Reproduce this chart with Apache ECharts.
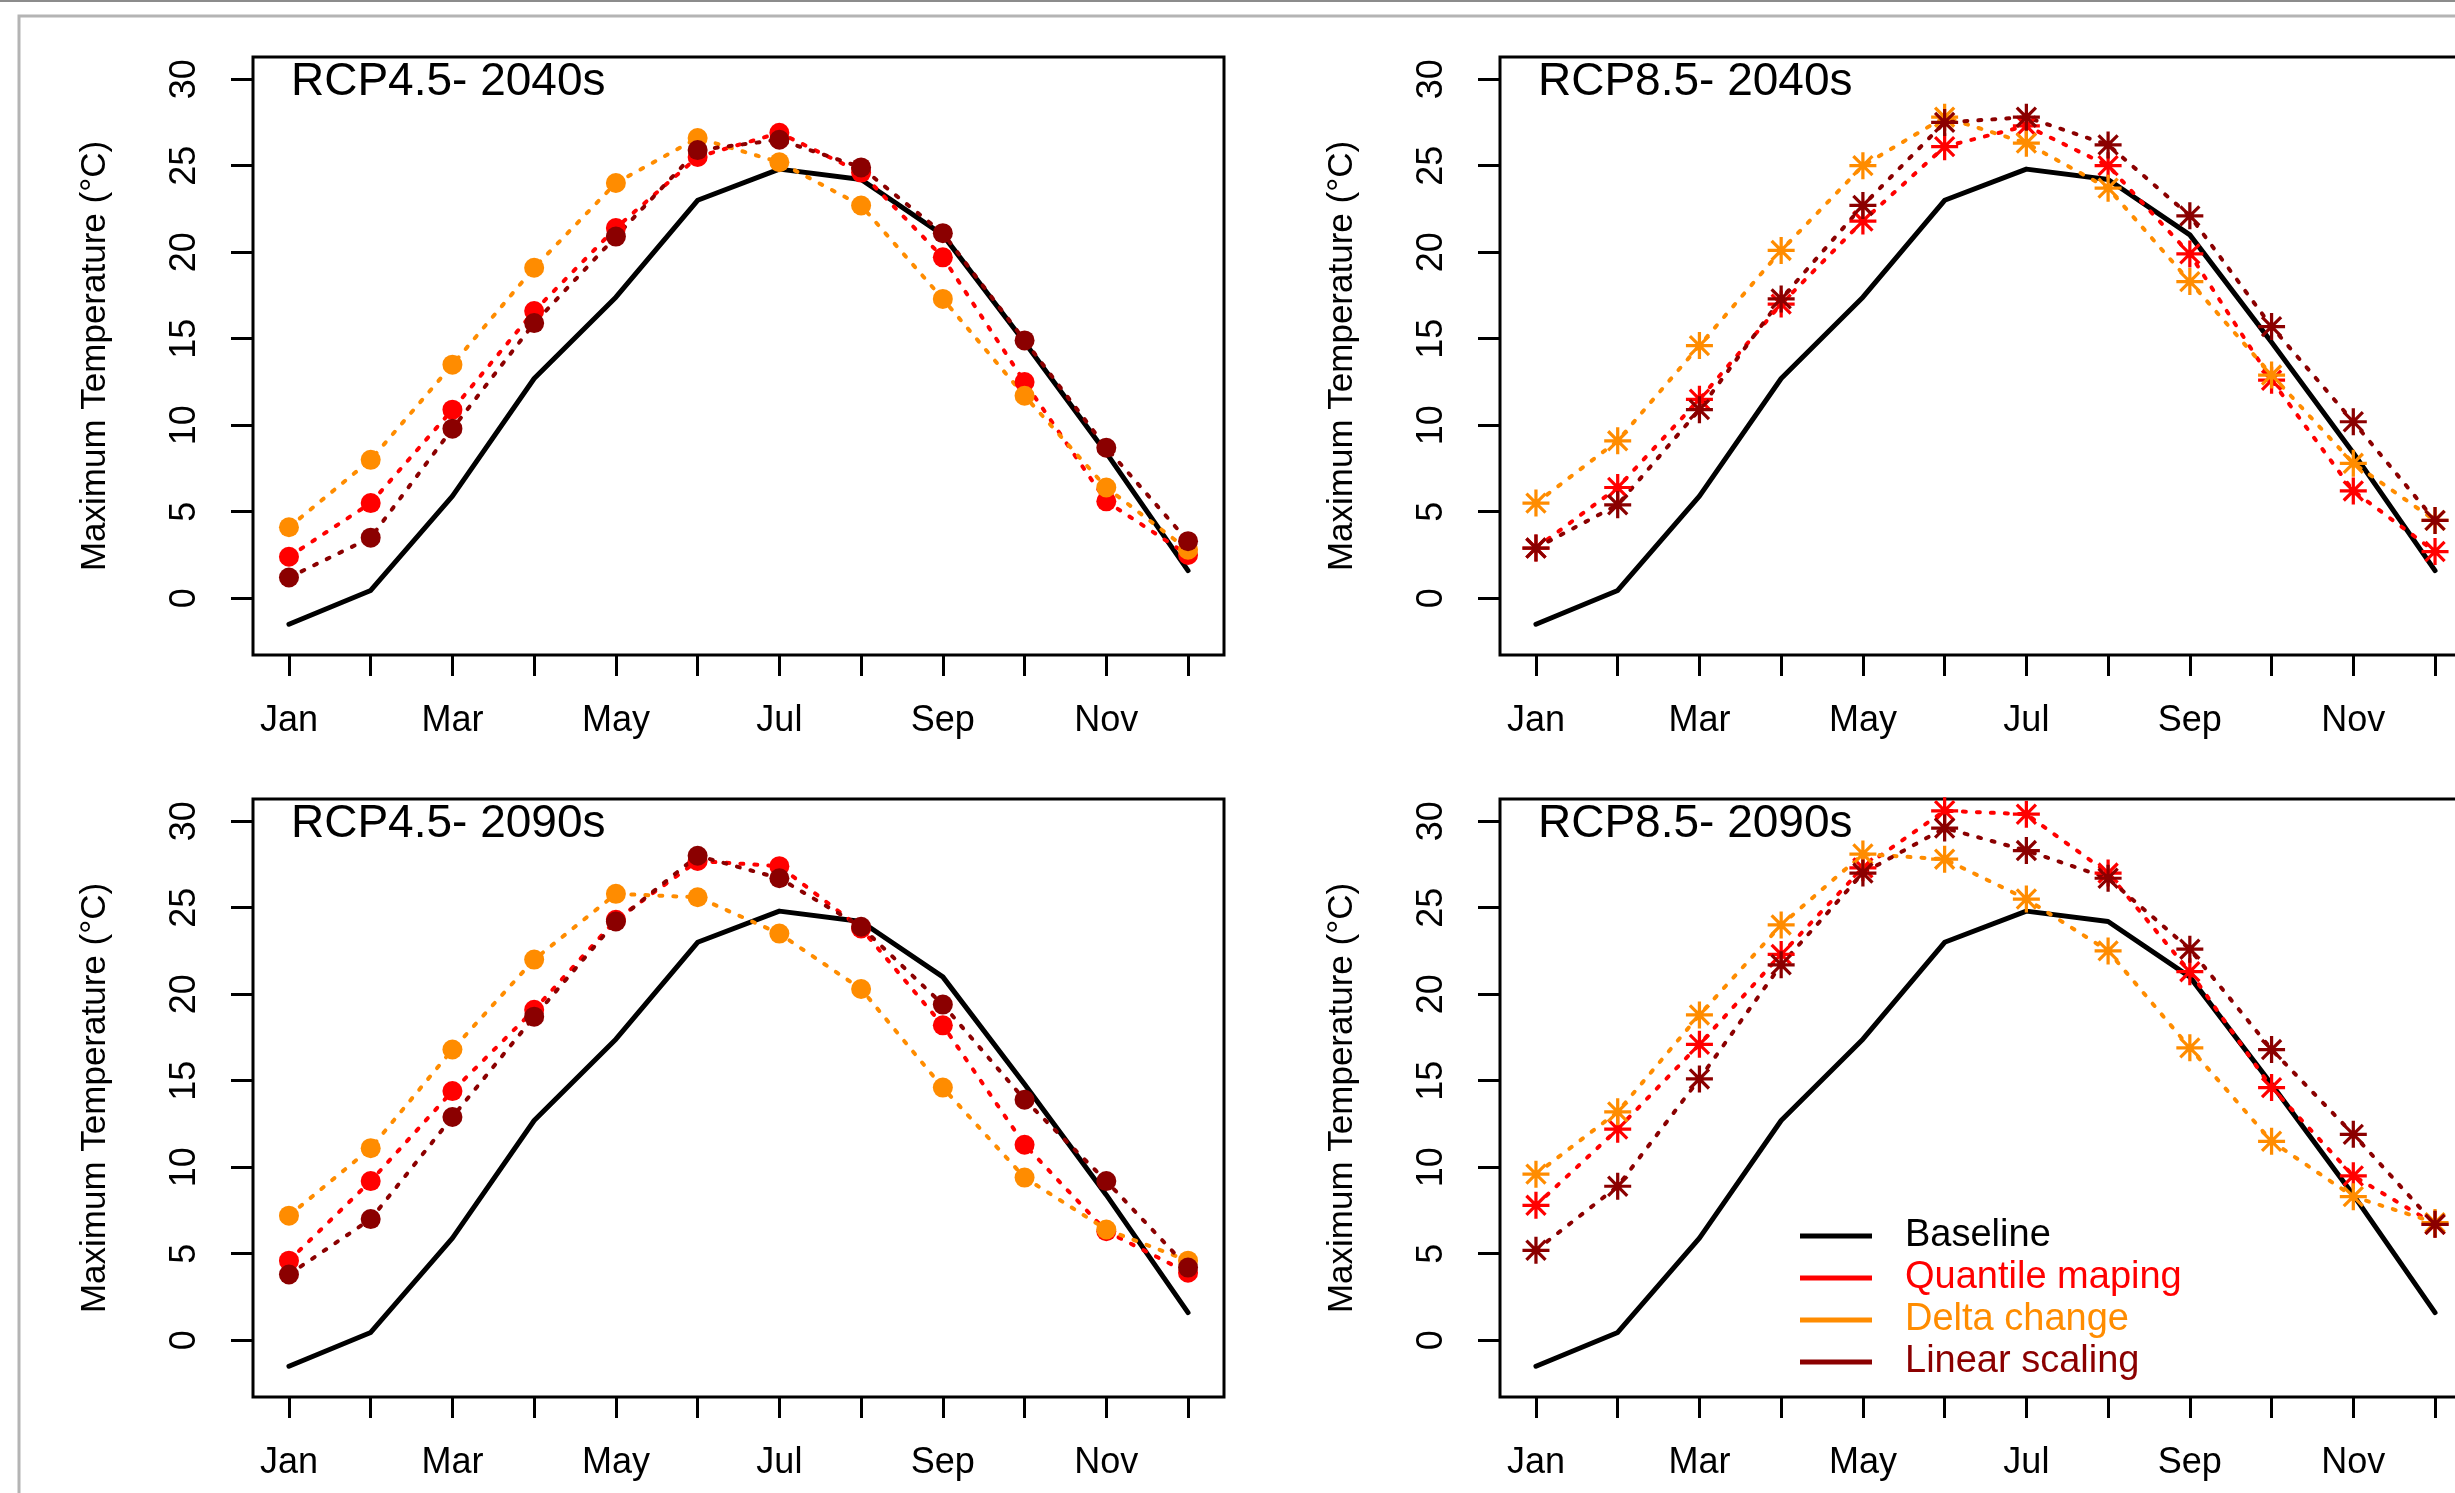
<!DOCTYPE html>
<html>
<head>
<meta charset="utf-8">
<script src="https://cdn.jsdelivr.net/npm/echarts@6/dist/echarts.min.js"></script>
<style>
  html, body { margin: 0; padding: 0; background: #fff; overflow: hidden; }
  /* a bit wider than the window: the right-hand panels run past the edge */
  #main { width: 2490px; height: 1493px; }
</style>
</head>
<body>
<div id="main"></div>
<script>
// months and ticks
var months = ['Jan', 'Feb', 'Mar', 'Apr', 'May', 'Jun', 'Jul', 'Aug', 'Sep', 'Oct', 'Nov', 'Dec'];
var xTicks = [1, 2, 3, 4, 5, 6, 7, 8, 9, 10, 11, 12];
var xLabelTicks = [1, 3, 5, 7, 9, 11];
var yTicks = [0, 5, 10, 15, 20, 25, 30];
var panelTitles = ['RCP4.5- 2040s', 'RCP8.5- 2040s', 'RCP4.5- 2090s', 'RCP8.5- 2090s'];

// baseline (same in every panel)
var baseline = [-1.5, 0.45, 5.9, 12.7, 17.4, 23.0, 24.8, 24.2, 21.0, 14.8, 8.4, 1.6];

// RCP4.5 2040s
var qm45_40 = [2.4, 5.5, 10.9, 16.6, 21.4, 25.5, 26.9, 24.6, 19.7, 12.5, 5.6, 2.5];
var dc45_40 = [4.1, 8.0, 13.5, 19.1, 24.0, 26.6, 25.2, 22.7, 17.3, 11.7, 6.4, 2.8];
var ls45_40 = [1.2, 3.5, 9.8, 15.9, 20.9, 25.9, 26.5, 24.9, 21.1, 14.9, 8.7, 3.3];

// RCP8.5 2040s
var qm85_40 = [2.9, 6.4, 11.5, 17.0, 21.8, 26.1, 27.3, 25.0, 19.9, 12.6, 6.2, 2.7];
var dc85_40 = [5.5, 9.1, 14.6, 20.1, 25.0, 27.8, 26.3, 23.7, 18.3, 12.9, 7.8, 4.5];
var ls85_40 = [2.9, 5.4, 10.9, 17.3, 22.7, 27.5, 27.8, 26.2, 22.1, 15.7, 10.2, 4.5];

// RCP4.5 2090s
var qm45_90 = [4.6, 9.2, 14.4, 19.1, 24.3, 27.7, 27.4, 23.8, 18.2, 11.3, 6.3, 3.9];
var dc45_90 = [7.2, 11.1, 16.8, 22.0, 25.8, 25.6, 23.5, 20.3, 14.6, 9.4, 6.4, 4.6];
var ls45_90 = [3.8, 7.0, 12.9, 18.7, 24.2, 28.0, 26.7, 23.9, 19.4, 13.9, 9.2, 4.2];

// RCP8.5 2090s
var qm85_90 = [7.8, 12.2, 17.1, 22.3, 27.3, 30.6, 30.4, 27.0, 21.3, 14.6, 9.5, 6.7];
var dc85_90 = [9.6, 13.2, 18.8, 24.0, 28.1, 27.8, 25.5, 22.5, 16.9, 11.5, 8.3, 6.8];
var ls85_90 = [5.2, 8.9, 15.1, 21.7, 27.0, 29.6, 28.3, 26.7, 22.6, 16.8, 11.9, 6.7];

var FONT = '"Liberation Sans", Arial, sans-serif';
var C_BASE = '#000000', C_QM = '#FF0000', C_DC = '#FF8C00', C_LS = '#8B0000';

// asterisk like R pch 8
var STAR = 'path://M44,0 L56,0 L56,100 L44,100 Z M0,44 L100,44 L100,56 L0,56 Z ' +
  'M18.88,10.4 L89.6,81.12 L81.12,89.6 L10.4,18.88 Z ' +
  'M89.6,18.88 L18.88,89.6 L10.4,81.12 L81.12,10.4 Z';

var panels = [
  { left: 253, top: 57, qm: qm45_40, dc: dc45_40, ls: ls45_40, sym: 'circle', size: 20 },
  { left: 1500, top: 57, qm: qm85_40, dc: dc85_40, ls: ls85_40, sym: STAR, size: 27 },
  { left: 253, top: 799, qm: qm45_90, dc: dc45_90, ls: ls45_90, sym: 'circle', size: 20 },
  { left: 1500, top: 799, qm: qm85_90, dc: dc85_90, ls: ls85_90, sym: STAR, size: 27 }
];

function pts(arr) {
  return arr.map(function (v, i) { return [i + 1, v]; });
}

var grids = [], xAxes = [], yAxes = [], series = [], titles = [];

panels.forEach(function (p, k) {
  grids.push({ left: p.left, top: p.top, width: 971, height: 598,
    show: true, borderColor: '#000', borderWidth: 3, backgroundColor: 'transparent' });
  xAxes.push({
    type: 'value', gridIndex: k, min: 0.56, max: 12.44,
    axisLine: { show: false, onZero: false },
    axisTick: { show: true, inside: false, length: 21, customValues: xTicks,
      lineStyle: { color: '#000', width: 3 } },
    axisLabel: { customValues: xLabelTicks, margin: 48, color: '#000',
      fontSize: 36, lineHeight: 36, fontFamily: FONT,
      formatter: function (v) { return months[v - 1]; } },
    splitLine: { show: false }
  });
  yAxes.push({
    type: 'value', gridIndex: k, min: -3.28, max: 31.28,
    name: 'Maximum Temperature (°C)', nameLocation: 'middle', nameGap: 140, nameRotate: 90,
    nameTextStyle: { color: '#000', fontSize: 35, lineHeight: 35, fontFamily: FONT },
    axisLine: { show: false, onZero: false },
    axisTick: { show: true, inside: false, length: 22, customValues: yTicks,
      lineStyle: { color: '#000', width: 3 } },
    axisLabel: { customValues: yTicks, rotate: 90, margin: 50, color: '#000',
      fontSize: 36, lineHeight: 36, fontFamily: FONT },
    splitLine: { show: false }
  });
  titles.push({ text: panelTitles[k], left: p.left + 38, top: p.top + 2, padding: 0,
    textStyle: { color: '#000', fontSize: 46, lineHeight: 46, fontWeight: 'normal', fontFamily: FONT } });

  series.push({
    name: 'Baseline', type: 'line', xAxisIndex: k, yAxisIndex: k, data: pts(baseline),
    showSymbol: false, symbol: 'none', color: C_BASE,
    lineStyle: { color: C_BASE, width: 5, join: 'round', cap: 'round' }
  });
  [['Quantile maping', p.qm, C_QM], ['Delta change', p.dc, C_DC], ['Linear scaling', p.ls, C_LS]]
    .forEach(function (s) {
      series.push({
        name: s[0], type: 'line', xAxisIndex: k, yAxisIndex: k, data: pts(s[1]),
        symbol: p.sym, symbolSize: p.size, showSymbol: true, color: s[2],
        itemStyle: { color: s[2], borderWidth: 0 },
        lineStyle: { color: s[2], width: 4, type: [3, 11], cap: 'round' }
      });
    });
});

var chart = echarts.init(document.getElementById('main'), null, { renderer: 'canvas' });
chart.setOption({
  backgroundColor: '#fff',
  animation: false,
  title: titles,
  grid: grids,
  xAxis: xAxes,
  yAxis: yAxes,
  legend: {
    left: 1800, top: 1217, orient: 'vertical', padding: 0,
    icon: 'rect', itemWidth: 72, itemHeight: 5, itemGap: 4,
    itemStyle: { borderWidth: 0 },
    textStyle: { fontSize: 38, lineHeight: 37, fontFamily: FONT, padding: [0, 0, 0, 28] },
    data: [
      { name: 'Baseline', textStyle: { color: C_BASE } },
      { name: 'Quantile maping', textStyle: { color: C_QM } },
      { name: 'Delta change', textStyle: { color: C_DC } },
      { name: 'Linear scaling', textStyle: { color: C_LS } }
    ]
  },
  graphic: [
    { type: 'line', shape: { x1: 0, y1: 1, x2: 2490, y2: 1 }, style: { stroke: '#8c8c8c', lineWidth: 2 }, silent: true },
    { type: 'polyline', shape: { points: [[19, 1493], [19, 16], [2490, 16]] }, style: { stroke: '#b4b4b4', lineWidth: 3, fill: null }, silent: true }
  ],
  series: series
});
</script>
</body>
</html>
